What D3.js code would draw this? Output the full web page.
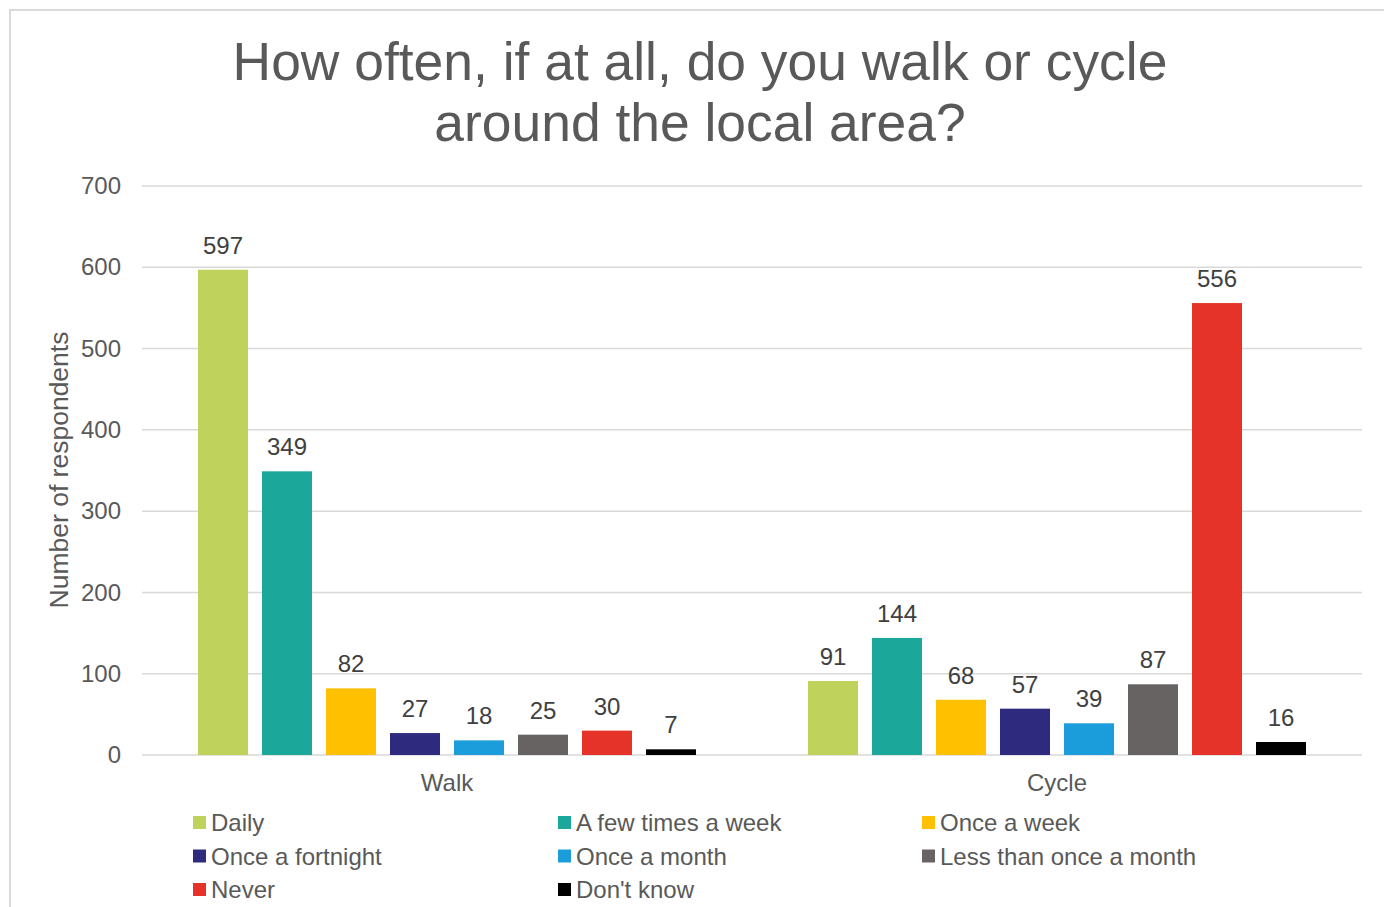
<!DOCTYPE html>
<html>
<head>
<meta charset="utf-8">
<script src="https://cdn.jsdelivr.net/npm/d3@7"></script>
<style>
  body { margin: 0; background: #fff; }
  text { font-family: "Liberation Sans", Arial, sans-serif; }
</style>
</head>
<body>
<div id="chart"></div>
<script>
// data
const groups = ["Walk", "Cycle"];
const categories = ["Daily", "A few times a week", "Once a week", "Once a fortnight",
                    "Once a month", "Less than once a month", "Never", "Don't know"];
const walkValues = [597, 349, 82, 27, 18, 25, 30, 7];
const cycleValues = [91, 144, 68, 57, 39, 87, 556, 16];
const yTicks = [0, 100, 200, 300, 400, 500, 600, 700];
const colors = ["#bfd35c", "#1ba89a", "#ffc000", "#2e2b7f", "#1b9ddc", "#676363", "#e5332a", "#000000"];
const titleLines = ["How often, if at all, do you walk or cycle", "around the local area?"];

const width = 1384, height = 907;
const margin = {left: 142, right: 22, top: 186, bottom: 152};

const rows = [];
groups.forEach((g, gi) => {
  const vals = gi === 0 ? walkValues : cycleValues;
  categories.forEach((c, ci) => rows.push({group: g, cat: c, value: vals[ci], color: colors[ci]}));
});

const svg = d3.select("#chart").append("svg")
  .attr("width", width)
  .attr("height", height);

// outer border (runs off the right and bottom edges)
svg.append("rect")
  .attr("x", 10).attr("y", 10)
  .attr("width", 1400).attr("height", 950)
  .attr("fill", "none")
  .attr("stroke", "#d9d9d9")
  .attr("stroke-width", 2);

// title
svg.append("g").selectAll("text")
  .data(titleLines)
  .join("text")
  .attr("x", 700)
  .attr("y", (d, i) => 80 + i * 61)
  .attr("text-anchor", "middle")
  .attr("font-size", 53.4)
  .attr("fill", "#595959")
  .text(d => d);

const x0 = d3.scaleBand()
  .domain(groups)
  .range([margin.left, width - margin.right]);

const groupWidth = 512;
const x1 = d3.scaleBand()
  .domain(categories)
  .range([0, groupWidth])
  .paddingInner(14 / 64)
  .paddingOuter(7 / 64);

const y = d3.scaleLinear()
  .domain([0, 700])
  .range([height - margin.bottom, margin.top]);

// gridlines
svg.append("g").selectAll("line")
  .data(yTicks)
  .join("line")
  .attr("x1", margin.left)
  .attr("x2", width - margin.right)
  .attr("y1", d => y(d))
  .attr("y2", d => y(d))
  .attr("stroke", "#d9d9d9")
  .attr("stroke-width", 1.5);

// y axis labels
const yAxis = svg.append("g")
  .attr("transform", `translate(${margin.left},0)`)
  .call(d3.axisLeft(y).tickValues(yTicks).tickSize(0).tickPadding(21));
yAxis.select(".domain").remove();
yAxis.selectAll("text")
  .attr("font-family", "Liberation Sans, Arial, sans-serif")
  .attr("font-size", 24)
  .attr("fill", "#595959");

// axis title
svg.append("text")
  .attr("transform", `translate(68,470) rotate(-90)`)
  .attr("text-anchor", "middle")
  .attr("font-size", 26.5)
  .attr("fill", "#595959")
  .text("Number of respondents");

const offset = (x0.bandwidth() - groupWidth) / 2;
const barX = d => x0(d.group) + offset + x1(d.cat);

// bars
svg.append("g").selectAll("rect")
  .data(rows)
  .join("rect")
  .attr("x", barX)
  .attr("y", d => y(d.value))
  .attr("width", x1.bandwidth())
  .attr("height", d => y(0) - y(d.value))
  .attr("fill", d => d.color);

// value labels
svg.append("g").selectAll("text")
  .data(rows)
  .join("text")
  .attr("x", d => barX(d) + x1.bandwidth() / 2)
  .attr("y", d => y(d.value) - 16)
  .attr("text-anchor", "middle")
  .attr("font-size", 24)
  .attr("fill", "#404040")
  .text(d => d.value);

// category labels
const xAxis = svg.append("g")
  .attr("transform", `translate(0,${y(0)})`)
  .call(d3.axisBottom(x0).tickSize(0).tickPadding(19));
xAxis.select(".domain").remove();
xAxis.selectAll("text")
  .attr("font-family", "Liberation Sans, Arial, sans-serif")
  .attr("font-size", 24)
  .attr("fill", "#595959");

// legend
const legendCols = [193, 558, 922];
const legend = svg.append("g").selectAll("g")
  .data(categories)
  .join("g")
  .attr("transform", (d, i) => `translate(${legendCols[i % 3]},${816 + Math.floor(i / 3) * 33.5})`);

legend.append("rect")
  .attr("width", 13)
  .attr("height", 13)
  .attr("fill", (d, i) => colors[i]);

legend.append("text")
  .attr("x", 18)
  .attr("y", 15)
  .attr("font-size", 24)
  .attr("fill", "#595959")
  .text(d => d);
</script>
</body>
</html>
